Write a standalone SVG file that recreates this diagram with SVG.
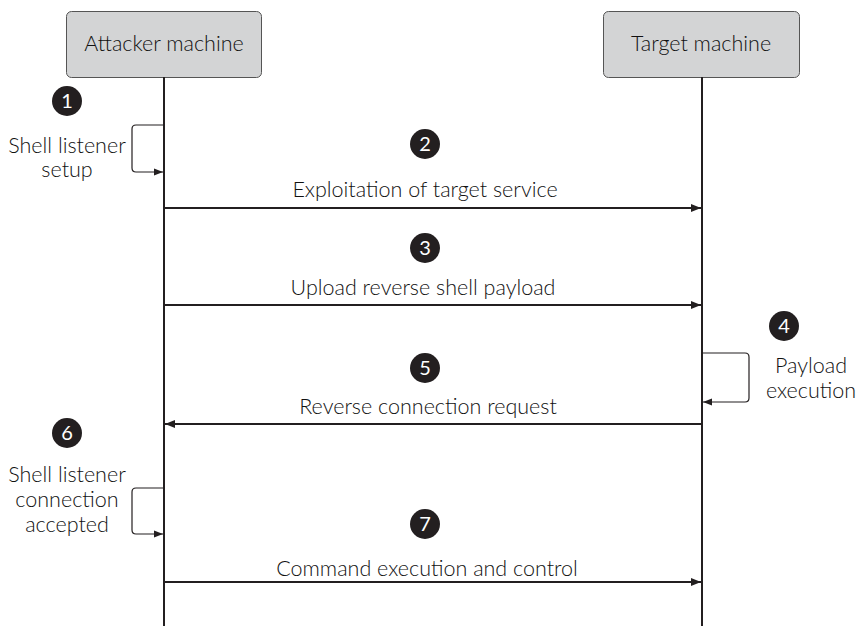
<svg xmlns="http://www.w3.org/2000/svg" width="856" height="626" viewBox="0 0 856 626">
<defs>
<style>
.box{fill:#d3d4d5;stroke:#555;stroke-width:1}
.t{font-family:Lato,"Liberation Sans",sans-serif;font-weight:300;font-size:21.5px;fill:#111;text-anchor:middle}
.num{font-family:Lato,"Liberation Sans",sans-serif;font-weight:400;font-size:20px;fill:#fff;text-anchor:middle}
.badge{fill:#231f20}
.life{stroke:#231f20;stroke-width:2;fill:none}
.msg{stroke:#231f20;stroke-width:2;fill:none;marker-end:url(#ah)}
.loop{stroke:#231f20;stroke-width:1.2;fill:none;marker-end:url(#ahs)}
</style>
<marker id="ah" viewBox="0 0 10 8" refX="10" refY="4" markerWidth="5" markerHeight="4" orient="auto" markerUnits="strokeWidth">
<path d="M0,0 L10,4 L0,8 Z" fill="#231f20"/>
</marker>
<marker id="ahs" viewBox="0 0 10 8" refX="10" refY="4" markerWidth="8" markerHeight="6" orient="auto" markerUnits="strokeWidth">
<path d="M0,0 L10,4 L0,8 Z" fill="#231f20"/>
</marker>
</defs>
<g id="attacker">
<rect class="box" x="66.5" y="11.5" width="195" height="66" rx="5"/>
<text class="t" x="164" y="51">Attacker machine</text>
</g>
<g id="target">
<rect class="box" x="603.5" y="11.5" width="196" height="66" rx="5"/>
<text class="t" x="701" y="51">Target machine</text>
</g>
<g id="connectors">
<line class="life" x1="164" y1="77" x2="164" y2="626"/>
<line class="life" x1="702" y1="77" x2="702" y2="626"/>
<path class="loop" d="M164,125 H136 Q132,125 132,129 V168 Q132,172 136,172 H163"/>
<line class="msg" x1="164" y1="208" x2="701" y2="208"/>
<line class="msg" x1="164" y1="305" x2="701" y2="305"/>
<path class="loop" d="M702,353 H745 Q749,353 749,357 V398 Q749,402 745,402 H703"/>
<line class="msg" x1="702" y1="424" x2="165" y2="424"/>
<path class="loop" d="M164,488 H136 Q132,488 132,492 V530 Q132,534 136,534 H163"/>
<line class="msg" x1="164" y1="582" x2="701" y2="582"/>
</g>
<g id="step1">
<circle class="badge" cx="67" cy="101" r="15"/>
<text class="num" x="67" y="108">1</text>
<text class="t" x="67" y="153">Shell listener</text>
<text class="t" x="67" y="177">setup</text>
</g>
<g id="step2">
<circle class="badge" cx="425" cy="144" r="15"/>
<text class="num" x="425" y="151">2</text>
<text class="t" x="425" y="197">Exploitation of target service</text>
</g>
<g id="step3">
<circle class="badge" cx="425" cy="248" r="15"/>
<text class="num" x="425" y="255">3</text>
<text class="t" x="423" y="295">Upload reverse shell payload</text>
</g>
<g id="step4">
<circle class="badge" cx="784" cy="326" r="15"/>
<text class="num" x="784" y="333">4</text>
<text class="t" x="811" y="373">Payload</text>
<text class="t" x="811" y="398">execution</text>
</g>
<g id="step5">
<circle class="badge" cx="425" cy="368" r="15"/>
<text class="num" x="425" y="375">5</text>
<text class="t" x="428" y="414">Reverse connection request</text>
</g>
<g id="step6">
<circle class="badge" cx="67" cy="433" r="15"/>
<text class="num" x="67" y="440">6</text>
<text class="t" x="67" y="482">Shell listener</text>
<text class="t" x="67" y="507">connection</text>
<text class="t" x="67" y="532">accepted</text>
</g>
<g id="step7">
<circle class="badge" cx="425" cy="524" r="15"/>
<text class="num" x="425" y="531">7</text>
<text class="t" x="427" y="576">Command execution and control</text>
</g>
</svg>
